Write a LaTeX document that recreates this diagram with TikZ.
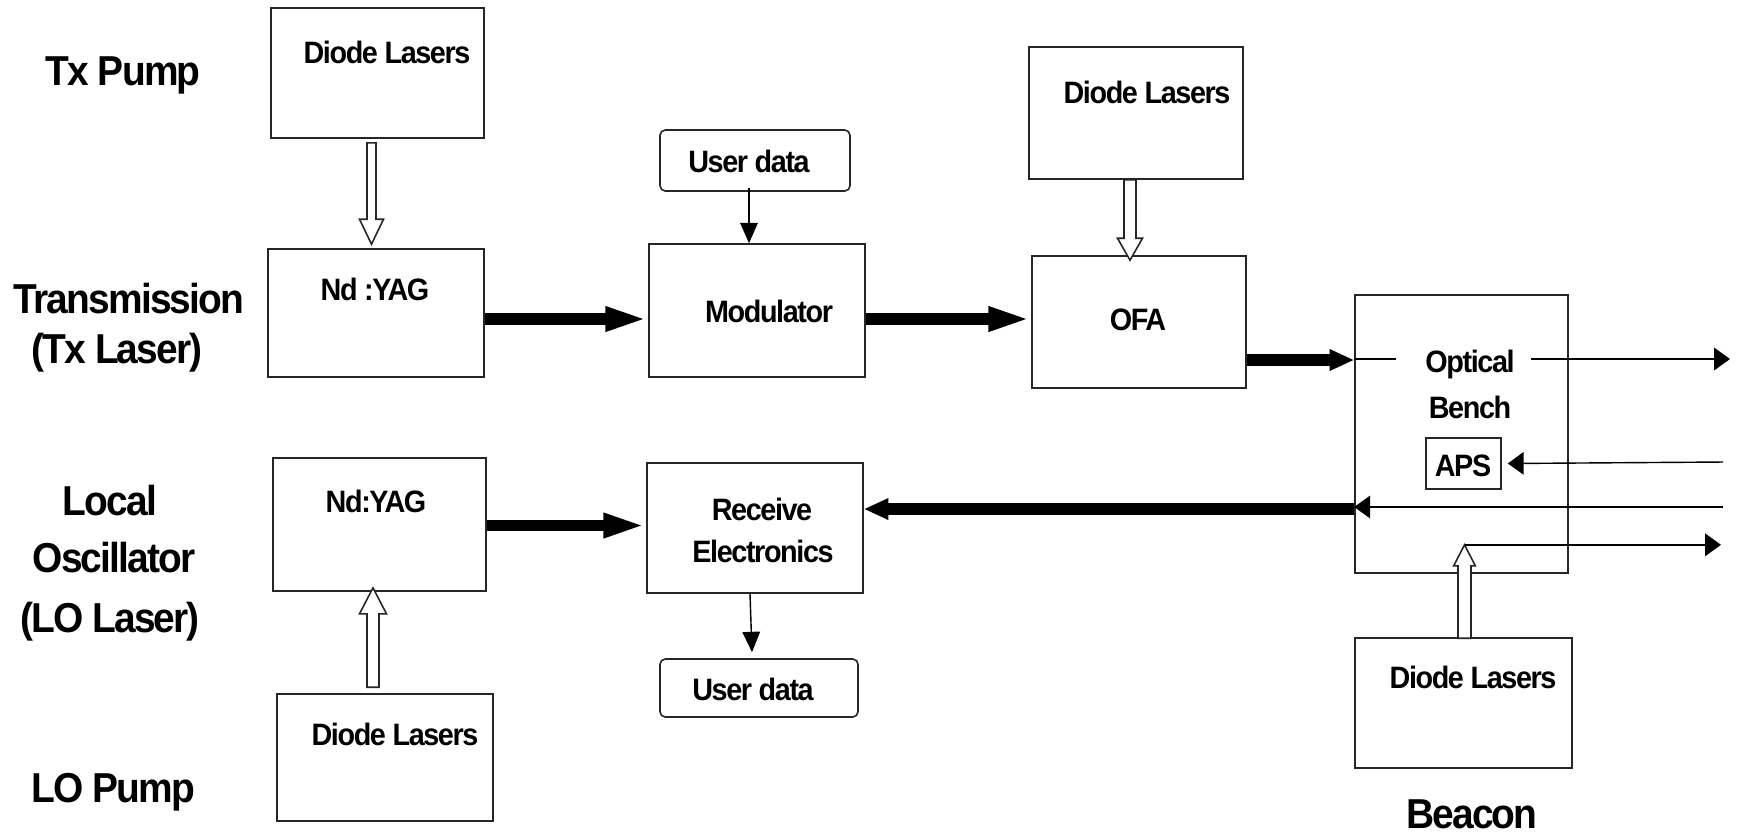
\documentclass[tikz,border=0pt]{standalone}
\usepackage{fontspec}
\setmainfont{Liberation Sans}[FakeStretch=0.93,LetterSpace=-4.5]
\usetikzlibrary{arrows.meta,calc,fit}
\newcommand\hollowarrow[5]{%
  \draw[hol] ($(#1)+(-#3,0)$) -- ($(#2)+(-#3,#5)$) -- ($(#2)+(-#4,#5)$) -- (#2) -- ($(#2)+(#4,#5)$) -- ($(#2)+(#3,#5)$) -- ($(#1)+(#3,0)$) -- cycle;}
\begin{document}
\begin{tikzpicture}[x=0.01cm,y=-0.01cm,
  box/.style={draw=black!85, line width=0.45pt, inner sep=0pt},
  ubox/.style={box, rounded corners=1.5pt},
  big/.style={font=\fontsize{11.9}{13}\selectfont\bfseries, anchor=base, inner sep=0pt},
  sm/.style={font=\fontsize{8.8}{10}\selectfont\bfseries, anchor=base, inner sep=0pt},
  fat/.style={line width=3.4pt, -{Triangle[length=12.2pt,width=6.3pt]}},
  fatshort/.style={line width=3.4pt, -{Triangle[length=7pt,width=5.7pt]}},
  thinline/.style={line width=0.4pt},
  tipa/.style={thinline, -{Triangle[length=4.5pt,width=6.4pt]}},
  tipb/.style={thinline, -{Triangle[length=5.8pt,width=5pt]}},
  hol/.style={draw=black!85, line width=0.45pt, fill=white},
]
\fill[white] (0,0) rectangle (1739,835);
\useasboundingbox (0,0) rectangle (1739,835);

% boxes
\node[box, fit={(271,8) (484,138)}] (txd) {};
\node[box, fit={(268,249) (484,377)}] (ndyag) {};
\node[ubox, fit={(660,130) (850,191)}] (ud1) {};
\node[box, fit={(649,244) (865,377)}] (mod) {};
\node[box, fit={(1029,47) (1243,179)}] (ofad) {};
\node[box, fit={(1032,256) (1246,388)}] (ofa) {};
\node[box, fit={(1355,295) (1568,573)}] (ob) {};
\node[box, fit={(1426,438) (1501,489)}] (aps) {};
\node[box, fit={(1355,638) (1572,768)}] (bd) {};
\node[box, fit={(273,458) (486,591)}] (lond) {};
\node[box, fit={(277,694) (493,821)}] (lodl) {};
\node[box, fit={(647,463) (863,593)}] (rec) {};
\node[ubox, fit={(660,659) (858,717)}] (ud2) {};

% texts in boxes
\node[sm] (t1) at (387,63) {Diode Lasers};
\node[sm] (t2) at (375,300) {Nd :YAG};
\node[sm] (t3) at (749,172) {User data};
\node[sm] (t4) at (769,322) {Modulator};
\node[sm] (t5) at (1147,103) {Diode Lasers};
\node[sm] (t6) at (1138,330) {OFA};
\node[sm] (t7) at (1470,372) {Optical};
\node[sm] (t8) at (1470,418) {Bench};
\node[sm] (t9) at (1463,476) {APS};
\node[sm] (t10) at (1473,688) {Diode Lasers};
\node[sm] (t11) at (376,512) {Nd:YAG};
\node[sm] (t12) at (395,745) {Diode Lasers};
\node[sm] (t13) at (762,520) {Receive};
\node[sm] (t14) at (763,562) {Electronics};
\node[sm] (t15) at (753,700) {User data};

% side labels
\node[big] (l1) at (123,85) {Tx Pump};
\node[big] (l2) at (129,313) {Transmission};
\node[big] (l3) at (117,363) {(Tx Laser)};
\node[big] (l4) at (110,515) {Local};
\node[big] (l5) at (114,572) {Oscillator};
\node[big] (l6) at (110,632) {(LO Laser)};
\node[big] (l7) at (113,802) {LO Pump};
\node[big] (l8) at (1472,828) {Beacon};

% hollow pump arrows
\coordinate (h1s) at ($(txd.south)+(-6,4)$);
\coordinate (h1t) at ($(h1s |- ndyag.north)+(0,-4)$);
\hollowarrow{h1s}{h1t}{4.5}{12}{-25}
\coordinate (h2s) at ($(ofad.south)+(-6,0)$);
\coordinate (h2t) at ($(h2s |- ofa.north)+(0,5)$);
\hollowarrow{h2s}{h2t}{6}{12.5}{-22}
\coordinate (h3s) at ($(lodl.north)+(-12,-6)$);
\coordinate (h3t) at ($(h3s |- lond.south)+(0,-4)$);
\hollowarrow{h3s}{h3t}{6}{13.5}{26}
\coordinate (h4s) at ($(bd.north)+(1,1)$);
\coordinate (h4t) at ($(h4s |- ob.south)+(0,-29)$);
\hollowarrow{h4s}{h4t}{6.5}{10.8}{21}

% thick beams
\coordinate (a1) at ($(ndyag.east)+(0,6)$);
\draw[fat] (a1) -- (a1 -| mod.west);
\coordinate (a2) at ($(mod.east)+(0,8.5)$);
\draw[fat] (a2) -- (a2 -| ofa.west);
\coordinate (a3) at ($(ofa.east)+(0,38)$);
\draw[fatshort] (a3) -- (a3 -| ob.west);
\coordinate (a4) at ($(lond.east)+(0,1)$);
\draw[fat] (a4) -- (a4 -| rec.west);
\coordinate (a5) at ($(ob.west)+(0,75)$);
\draw[fatshort] (a5) -- (a5 -| rec.east);

% thin data arrows
\coordinate (u1) at ($(ud1.south)+(-6,-4)$);
\draw[tipb] (u1) -- (u1 |- mod.north);
\draw[tipb] ($(rec.south)+(-5,0)$) -- ($(ud2.north)+(-7,-6)$);

% optical bench lines
\coordinate (o1) at ($(ob.west)+(0,-75)$);
\draw[thinline] (o1) -- ($(o1)+(42,0)$);
\coordinate (o2) at (1531,359);
\coordinate (out1) at (1730,359);
\draw[tipa] (o2) -- (out1);
\coordinate (in1) at (1723,462);
\draw[tipa] (in1) -- ($(aps.east)+(6,0)$);
\coordinate (in2) at (1723,507);
\draw[tipa] (in2) -- (in2 -| ob.west);
\coordinate (out3) at (1721,544);
\draw[tipa] (h4t) -- (out3 |- h4t);
\end{tikzpicture}
\end{document}
